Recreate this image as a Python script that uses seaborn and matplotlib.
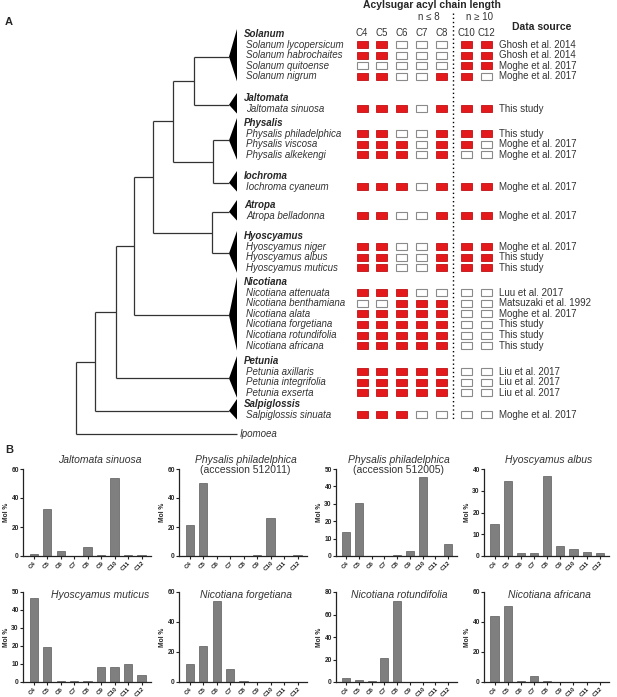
import matplotlib
matplotlib.use('Agg')
import matplotlib.pyplot as plt
import seaborn as sns
import numpy as np
import pandas as pd
from matplotlib.patches import Rectangle, Polygon

sns.set_style('white')
plt.rcParams['font.family'] = ['Liberation Sans', 'DejaVu Sans']

# ---------------- panel A data ----------------
chain_cols = ['C4', 'C5', 'C6', 'C7', 'C8', 'C10', 'C12']

genera = ['Solanum', 'Jaltomata', 'Physalis', 'Iochroma', 'Atropa',
          'Hyoscyamus', 'Nicotiana', 'Petunia', 'Salpiglossis']

species = [
    ['Solanum lycopersicum', 'Solanum habrochaites', 'Solanum quitoense', 'Solanum nigrum'],
    ['Jaltomata sinuosa'],
    ['Physalis philadelphica', 'Physalis viscosa', 'Physalis alkekengi'],
    ['Iochroma cyaneum'],
    ['Atropa belladonna'],
    ['Hyoscyamus niger', 'Hyoscyamus albus', 'Hyoscyamus muticus'],
    ['Nicotiana attenuata', 'Nicotiana benthamiana', 'Nicotiana alata',
     'Nicotiana forgetiana', 'Nicotiana rotundifolia', 'Nicotiana africana'],
    ['Petunia axillaris', 'Petunia integrifolia', 'Petunia exserta'],
    ['Salpiglossis sinuata'],
]

# 1 = acyl chain detected (C4 C5 C6 C7 C8 | C10 C12)
presence = [
    [1, 1, 0, 0, 0, 1, 1],
    [1, 1, 0, 0, 0, 1, 1],
    [0, 0, 0, 0, 0, 1, 1],
    [1, 1, 0, 0, 1, 1, 0],
    [1, 1, 1, 0, 1, 1, 1],
    [1, 1, 0, 0, 1, 1, 1],
    [1, 1, 1, 0, 1, 1, 0],
    [1, 1, 1, 0, 1, 0, 0],
    [1, 1, 1, 0, 1, 1, 1],
    [1, 1, 0, 0, 1, 1, 1],
    [1, 1, 0, 0, 1, 1, 1],
    [1, 1, 0, 0, 1, 1, 1],
    [1, 1, 0, 0, 1, 1, 1],
    [1, 1, 1, 0, 0, 0, 0],
    [0, 0, 1, 1, 1, 0, 0],
    [1, 1, 1, 1, 1, 0, 0],
    [1, 1, 1, 1, 1, 0, 0],
    [1, 1, 1, 1, 1, 0, 0],
    [1, 1, 1, 1, 1, 0, 0],
    [1, 1, 1, 1, 1, 0, 0],
    [1, 1, 1, 1, 1, 0, 0],
    [1, 1, 1, 1, 1, 0, 0],
    [1, 1, 1, 0, 0, 0, 0],
]

sources = [
    'Ghosh et al. 2014', 'Ghosh et al. 2014', 'Moghe et al. 2017', 'Moghe et al. 2017',
    'This study',
    'This study', 'Moghe et al. 2017', 'Moghe et al. 2017',
    'Moghe et al. 2017',
    'Moghe et al. 2017',
    'Moghe et al. 2017', 'This study', 'This study',
    'Luu et al. 2017', 'Matsuzaki et al. 1992', 'Moghe et al. 2017',
    'This study', 'This study', 'This study',
    'Liu et al. 2017', 'Liu et al. 2017', 'Liu et al. 2017',
    'Moghe et al. 2017',
]

# tree: (left, right, node depth from tips)
tree = ((((((('Solanum', 'Jaltomata', 35), ('Physalis', 'Iochroma', 16), 56),
           ('Atropa', 'Hyoscyamus', 17), 76), 'Nicotiana', 95),
         'Petunia', 113), 'Salpiglossis', 134), 'Ipomoea', 153)

# ---------------- panel B data ----------------
bar_chains = ['C4', 'C5', 'C6', 'C7', 'C8', 'C9', 'C10', 'C11', 'C12']
bar_titles = ['Jaltomata sinuosa', 'Physalis philadelphica', 'Physalis philadelphica',
              'Hyoscyamus albus', 'Hyoscyamus muticus', 'Nicotiana forgetiana',
              'Nicotiana rotundifolia', 'Nicotiana africana']
bar_subtitles = [None, '(accession 512011)', '(accession 512005)', None,
                 None, None, None, None]
mol_pct = [
    [1.5, 32.5, 3.2, 0.0, 6.0, 0.6, 53.5, 0.8, 0.8],
    [21.2, 50.4, 0.0, 0.0, 0.2, 0.4, 26.2, 0.0, 0.8],
    [13.8, 30.2, 0.0, 0.0, 0.5, 2.7, 45.2, 0.2, 6.7],
    [14.6, 34.5, 1.2, 1.5, 36.8, 4.8, 3.1, 1.7, 1.4],
    [46.8, 19.5, 0.8, 0.8, 0.7, 8.5, 8.3, 10.0, 4.1],
    [12.0, 24.0, 54.3, 8.5, 0.7, 0.1, 0.1, 0.1, 0.1],
    [3.4, 2.2, 0.5, 20.9, 72.3, 0.1, 0.1, 0.1, 0.1],
    [44.0, 50.6, 0.8, 3.8, 0.8, 0.2, 0.2, 0.2, 0.2],
]
y_max = [60, 60, 50, 40, 50, 60, 80, 60]
y_step = [20, 20, 10, 10, 10, 20, 20, 20]

# ---------------- figure ----------------
W, H = 617, 697
fig = plt.figure(figsize=(W / 100, H / 100), dpi=100)
axA = fig.add_axes([0, 0, 1, 1])
axA.set_xlim(0, W)
axA.set_ylim(H, 0)
axA.axis('off')

RED = '#e3191c'
LINE = '#333333'

# row layout
row_step = 10.6
first_label = 34
gaps = [21.6, 14.4, 21.2, 18.4, 20.4, 14.2, 15.4, 11.2, 19.4]
label_y, species_y, tip_y = [], [], {}
y = first_label
for g, (gen, sp) in enumerate(zip(genera, species)):
    label_y.append(y)
    rows = [y + row_step * (k + 1) for k in range(len(sp))]
    species_y.extend(rows)
    tip_y[gen] = (y + rows[-1]) / 2 + 1.5
    y = rows[-1] + gaps[g]
tip_y['Ipomoea'] = y

tip_x = 229
def draw(node):
    if isinstance(node, str):
        return tip_x if node != 'Ipomoea' else 237, tip_y[node]
    left, right, depth = node
    xl, yl = draw(left)
    xr, yr = draw(right)
    x = tip_x - depth
    axA.plot([x, x], [yl, yr], color=LINE, lw=0.9, solid_capstyle='butt')
    axA.plot([x, xl], [yl, yl], color=LINE, lw=0.9, solid_capstyle='butt')
    axA.plot([x, xr], [yr, yr], color=LINE, lw=0.9, solid_capstyle='butt')
    return x, (yl + yr) / 2

draw(tree)

# clade wedges and labels
k = 0
for g, (gen, sp) in enumerate(zip(genera, species)):
    top = label_y[g] - 5
    bot = species_y[k + len(sp) - 1] + 5
    axA.add_patch(Polygon([[tip_x, tip_y[gen]], [tip_x + 8, top], [tip_x + 8, bot]],
                          closed=True, color='black', lw=0))
    axA.text(244, label_y[g], gen, fontsize=7, fontstyle='italic', fontweight='bold',
             va='center', ha='left')
    for s in sp:
        axA.text(246, species_y[k], s, fontsize=7, fontstyle='italic', color='#333333',
                 va='center', ha='left')
        k += 1
axA.text(240, tip_y['Ipomoea'], 'Ipomoea', fontsize=7, fontstyle='italic',
         color='#333333', va='center', ha='left')

# presence grid
col_x = [362 + 19.9 * i for i in range(5)] + [466, 486]
bw, bh = 11, 7
for r, row in enumerate(presence):
    for c, v in enumerate(row):
        if v:
            axA.add_patch(Rectangle((col_x[c] - bw / 2, species_y[r] - bh / 2), bw, bh,
                                    facecolor=RED, edgecolor='#c01015', lw=0.6))
        else:
            axA.add_patch(Rectangle((col_x[c] - bw / 2, species_y[r] - bh / 2), bw, bh,
                                    facecolor='white', edgecolor='#8a8a8a', lw=0.8))
    axA.text(499, species_y[r], sources[r], fontsize=7, color='#333333',
             va='center', ha='left')

for c, name in enumerate(chain_cols):
    axA.text(col_x[c], 33, name, fontsize=7, color='#333333', ha='center', va='center')

axA.plot([453, 453], [13, 420], color='black', lw=1, ls=(0, (1, 2)))
axA.text(432, 5, 'Acylsugar acyl chain length', fontsize=7.5, fontweight='bold',
         ha='center', va='center')
axA.text(429, 17, 'n \u2264 8', fontsize=7, color='#333333', ha='center', va='center')
axA.text(480, 17, 'n \u2265 10', fontsize=7, color='#333333', ha='center', va='center')
axA.text(512, 27, 'Data source', fontsize=7.5, fontweight='bold', ha='left', va='center')
axA.text(5, 22, 'A', fontsize=8, fontweight='bold', ha='left', va='center')
axA.text(5, 450, 'B', fontsize=8, fontweight='bold', ha='left', va='center')

# ---------------- panel B ----------------
col_left = [23, 179, 336, 484]
col_width = [128, 128, 121, 125]
row_zero = [556, 682]
row_top = [469, 592]
title_y = [460, 595]

for i in range(8):
    r, c = divmod(i, 4)
    left = col_left[c]
    width = col_width[c]
    bottom = row_zero[r]
    height = row_zero[r] - row_top[r]
    ax = fig.add_axes([left / W, (H - bottom) / H, width / W, height / H])
    df = pd.DataFrame({'chain': bar_chains, 'mol': mol_pct[i]})
    sns.barplot(data=df, x='chain', y='mol', color='#7f7f7f', saturation=1,
                width=0.62, edgecolor='#5c5c5c', linewidth=0.5, ax=ax)
    ax.set_xlim(-0.8, 8.7)
    ax.set_ylim(0, y_max[i])
    ax.set_yticks(np.arange(0, y_max[i] + 1, y_step[i]))
    ax.set_xlabel('')
    ax.set_ylabel('Mol %', fontsize=4.8, fontweight='bold', labelpad=1)
    for side in ['top', 'right']:
        ax.spines[side].set_visible(False)
    for side in ['left', 'bottom']:
        ax.spines[side].set_color('#222222')
        ax.spines[side].set_linewidth(0.9)
    ax.tick_params(axis='both', direction='out', length=2, width=0.8, color='#222222',
                   pad=1, left=True, bottom=True)
    ax.tick_params(axis='y', labelsize=4.8)
    ax.tick_params(axis='x', labelsize=4.5)
    for lab in ax.get_yticklabels():
        lab.set_fontweight('bold')
    for lab in ax.get_xticklabels():
        lab.set_fontweight('bold')
        lab.set_rotation(45)
        lab.set_ha('right')
        lab.set_rotation_mode('anchor')
    ax.patch.set_alpha(0)

    cx = left + width * (0.6 if c == 0 else 0.52)
    fig.text(cx / W, 1 - title_y[r] / H, bar_titles[i], fontsize=7.5,
             fontstyle='italic', color='#333333', ha='center', va='center')
    if bar_subtitles[i]:
        fig.text(cx / W, 1 - (title_y[r] + 10) / H, bar_subtitles[i], fontsize=7.5,
                 color='#333333', ha='center', va='center')

fig.savefig('out.png', dpi=100)
